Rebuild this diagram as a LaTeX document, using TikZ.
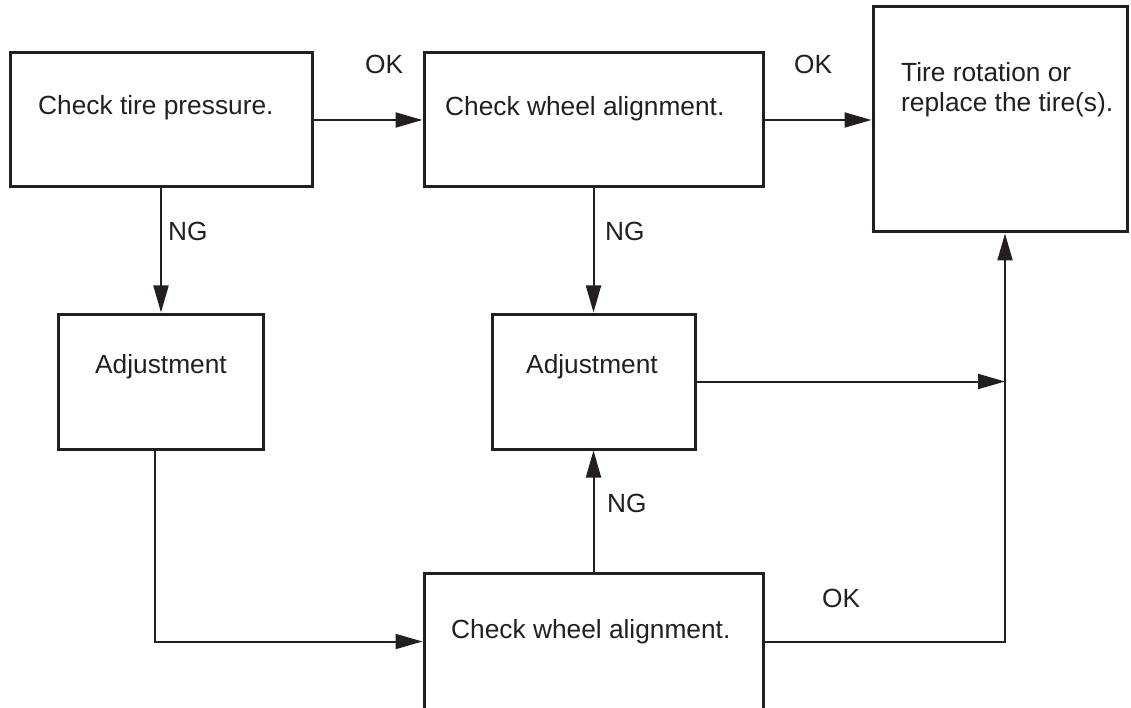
\documentclass[tikz,border=0pt]{standalone}
\usepackage{fontspec}
\setmainfont{Liberation Sans}
\usetikzlibrary{arrows.meta}
\definecolor{ink}{RGB}{35,31,32}
\begin{document}
\begin{tikzpicture}[x=1pt,y=-1pt,
  box/.style={draw=ink,line width=3pt,inner sep=0pt,fill=white},
  txt/.style={inner sep=0pt,anchor=base west,text=ink,font=\fontsize{26.3pt}{30pt}\selectfont},
  arr/.style={draw=ink,line width=2pt,-{Triangle[length=27pt,width=15pt]}},
  lne/.style={draw=ink,line width=2pt}]
\useasboundingbox (0,0) rectangle (1131,708);
% boxes
\node[box,minimum width=302pt,minimum height=134pt] (b1) at (161,120) {};
\node[box,minimum width=339pt,minimum height=134pt] (b2) at (593.5,120) {};
\node[box,minimum width=254pt,minimum height=225pt] (b3) at (1000,119.5) {};
\node[box,minimum width=205pt,minimum height=135pt] (a1) at (160.5,381.5) {};
\node[box,minimum width=203pt,minimum height=135pt] (a2) at (593.5,381.5) {};
\node[box,minimum width=339pt,minimum height=137pt] (b4) at (593.5,641.5) {};
% texts
\node[txt] (t1) at (38,115) {Check tire pressure.};
\node[txt] (t2) at (445,116) {Check wheel alignment.};
\node[txt,align=left] (t3) at (901,112) {Tire rotation or\\replace the tire(s).};
\node[txt] (t4) at (95,373) {Adjustment};
\node[txt] (t5) at (526,373) {Adjustment};
\node[txt] (t6) at (451,638) {Check wheel alignment.};
% labels
\node[txt] (ok1) at (365,74) {OK};
\node[txt] (ok2) at (794,74) {OK};
\node[txt] (ok3) at (822,607) {OK};
\node[txt] (ng1) at (168,241) {NG};
\node[txt] (ng2) at (605,241) {NG};
\node[txt] (ng3) at (607,512) {NG};
% junction
\coordinate (j) at (1005,642);
% connectors
\draw[arr] (b1.east) -- (b2.west);
\draw[arr] (b2.east) -- (b3.west |- b2.east);
\draw[arr] (b1.south) -- (b1.south |- a1.north);
\draw[arr] (b2.south) -- (a2.north);
\draw[arr] (a2.east) -- (a2.east -| j);
\draw[arr] (b4.east) -| (b3.south -| j);
\draw[arr] ([xshift=-5.5pt]a1.south) |- (b4.west);
\draw[arr] (b4.north) -- (a2.south);
\end{tikzpicture}
\end{document}
